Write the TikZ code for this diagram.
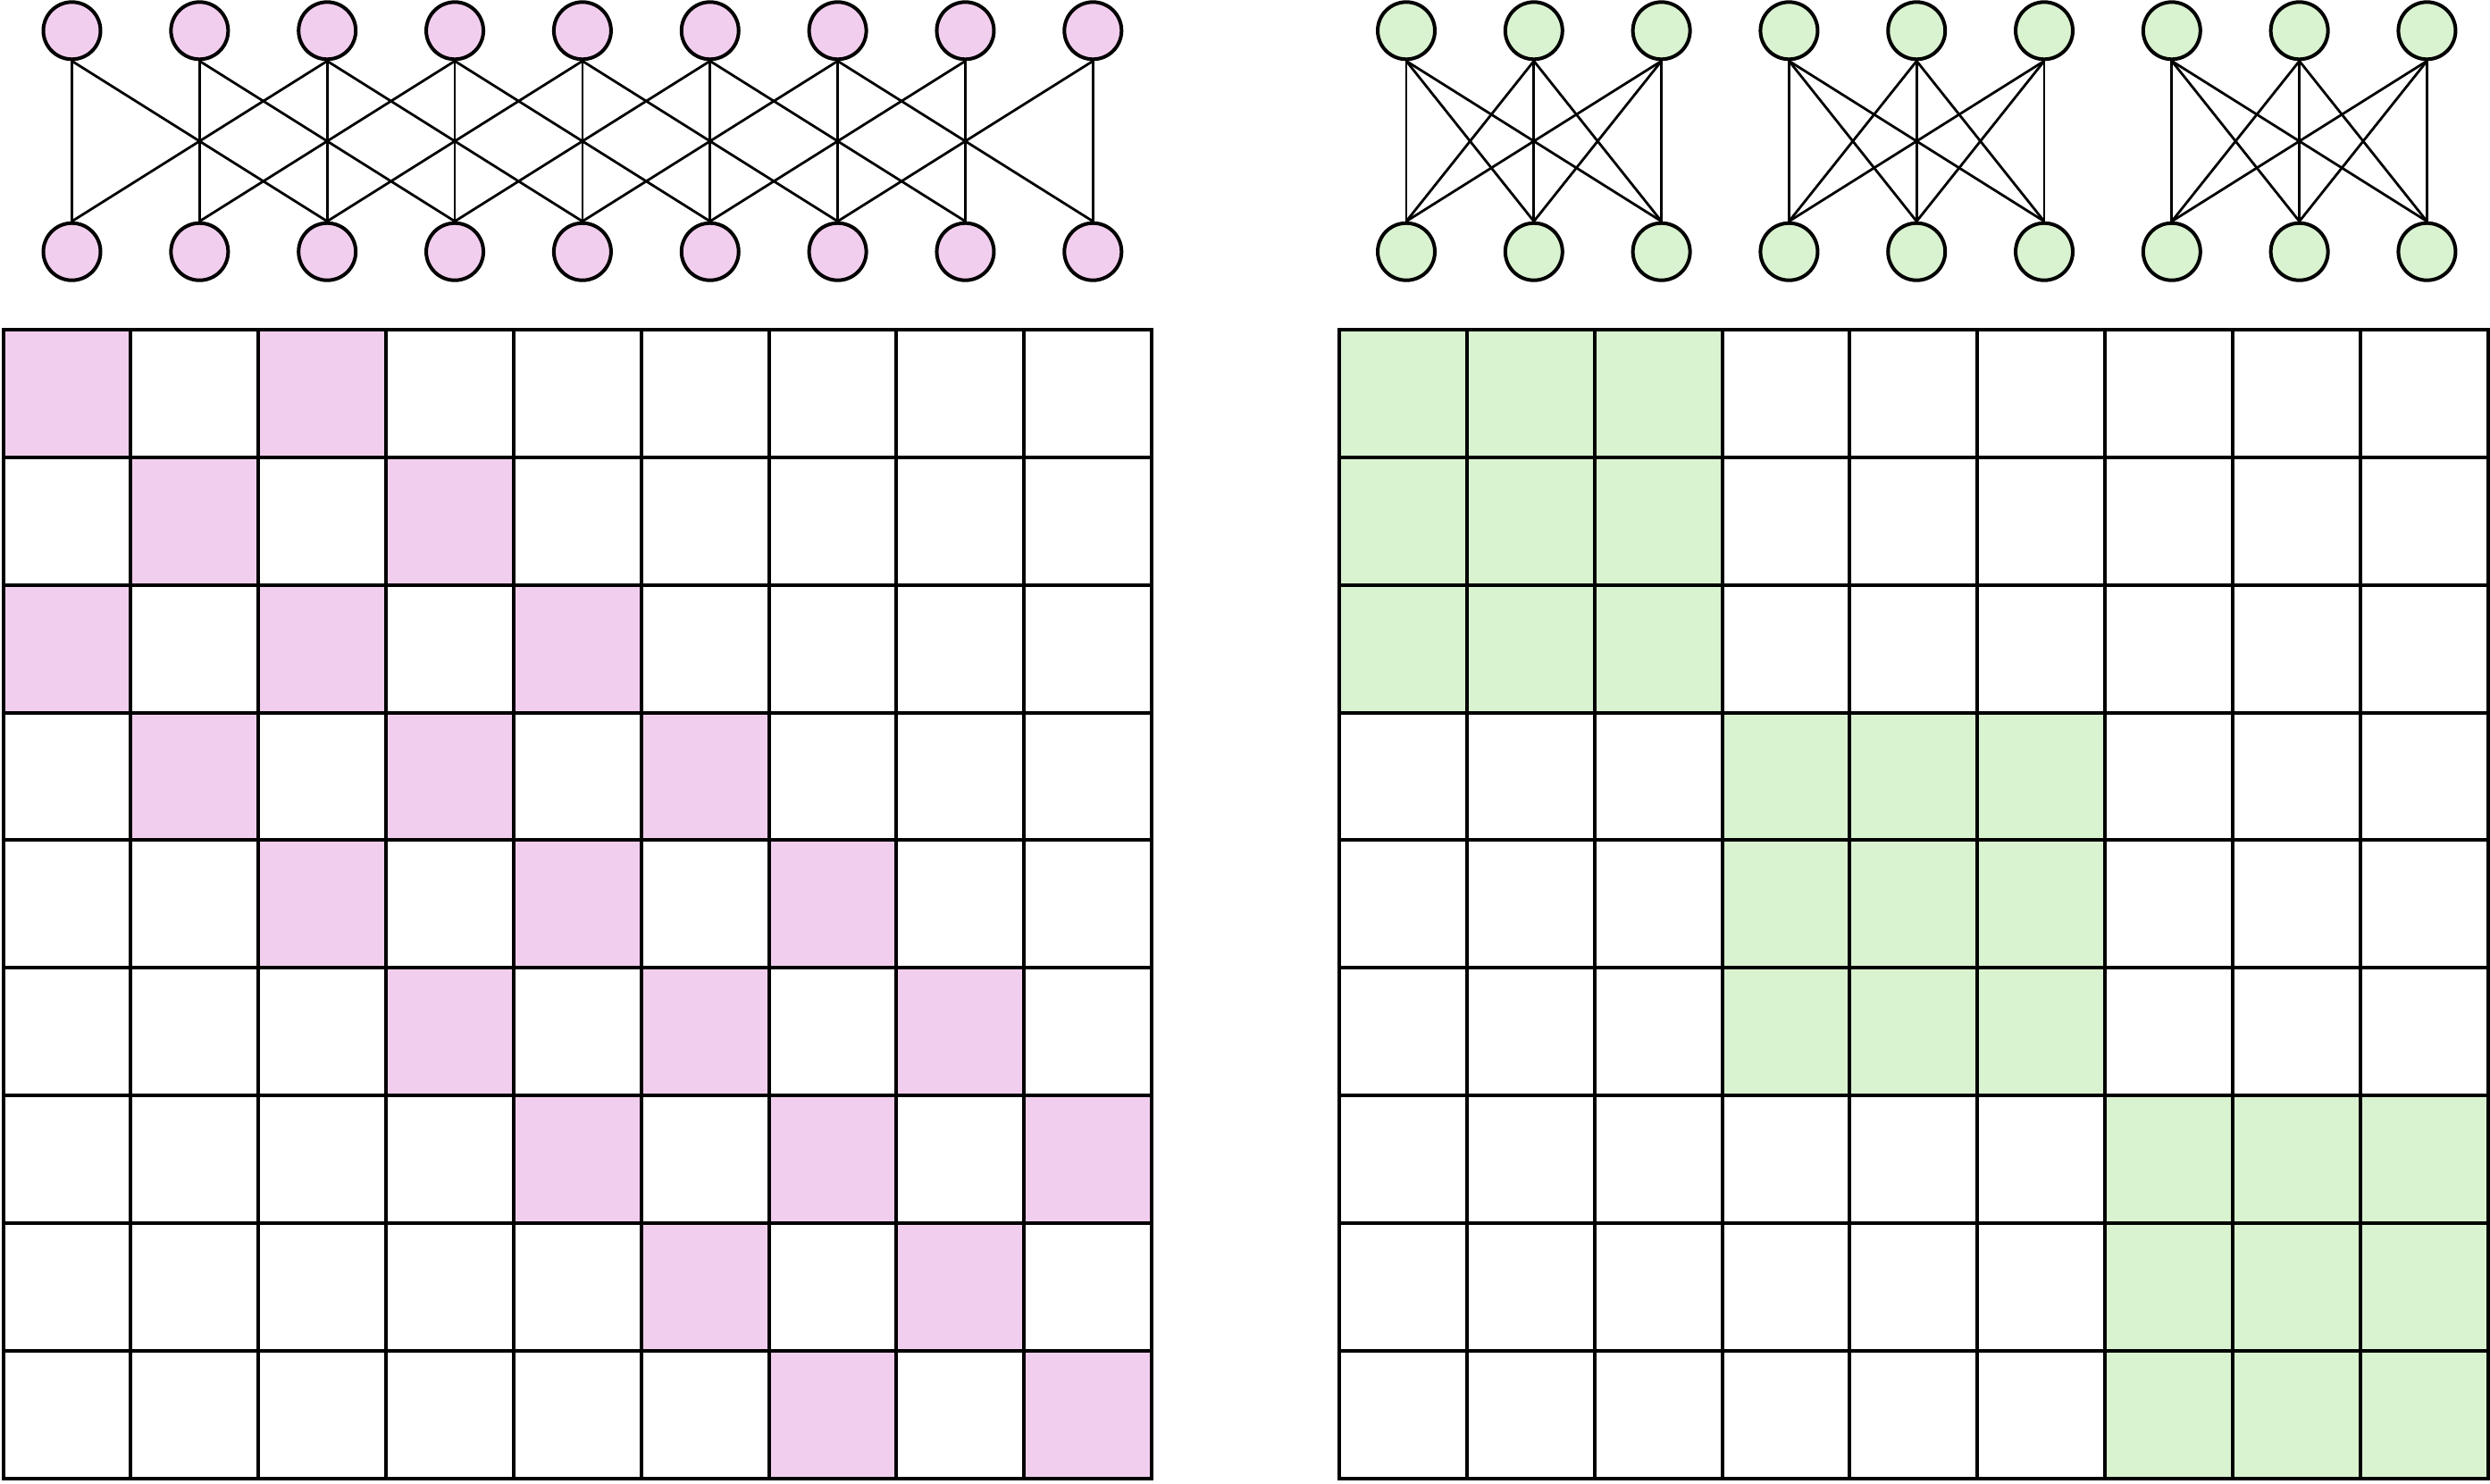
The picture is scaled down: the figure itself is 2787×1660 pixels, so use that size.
\documentclass[tikz,border=0pt]{standalone}
\definecolor{pinkc}{HTML}{F2CEEE}
\definecolor{greenc}{HTML}{D9F2D0}
\begin{document}
\begin{tikzpicture}[x=0.1mm,y=-0.1mm,
  vert/.style={circle, draw, line width=0.4mm, minimum size=6.4mm, inner sep=0pt},
  pinkv/.style={vert, fill=pinkc},
  greenv/.style={vert, fill=greenc},
  edge/.style={line width=0.28mm},
  gridline/.style={line width=0.4mm}]
\useasboundingbox (0,0) rectangle (2787,1660);
% ---------- left graph ----------
\foreach \i in {1,...,9} {
  \node[pinkv] (t\i) at ({80.5+142.85*(\i-1)},34.3) {};
  \node[pinkv] (b\i) at ({80.5+142.85*(\i-1)},281.7) {};
}
\foreach \i in {1,...,9} {
  \foreach \d in {-2,0,2} {
    \pgfmathtruncatemacro\j{\i+\d}
    \ifnum\j>0 \ifnum\j<10
      \draw[edge] (t\i.south) -- (b\j.north);
    \fi\fi
  }
}
% ---------- right graph ----------
\foreach \i in {1,...,9} {
  \node[greenv] (gt\i) at ({1574+142.8*(\i-1)},34.3) {};
  \node[greenv] (gb\i) at ({1574+142.8*(\i-1)},281.7) {};
}
\foreach \g in {0,1,2} {
  \foreach \a in {1,2,3} {
    \foreach \b in {1,2,3} {
      \pgfmathtruncatemacro\p{3*\g+\a}
      \pgfmathtruncatemacro\q{3*\g+\b}
      \draw[edge] (gt\p.south) -- (gb\q.north);
    }
  }
}
% ---------- left matrix ----------
\def\cs{142.85}
\foreach \r in {0,...,8} {
  \foreach \c in {0,...,8} {
    \pgfmathtruncatemacro\dd{abs(\r-\c)}
    \ifnum\dd=0 \fill[pinkc] ({3.5+\cs*\c},{369+\cs*\r}) rectangle ++(\cs,\cs); \fi
    \ifnum\dd=2 \fill[pinkc] ({3.5+\cs*\c},{369+\cs*\r}) rectangle ++(\cs,\cs); \fi
  }
}
\foreach \k in {1,...,8} {
  \draw[gridline] ({3.5+\cs*\k},369) -- ({3.5+\cs*\k},{369+9*\cs});
  \draw[gridline] (3.5,{369+\cs*\k}) -- ({3.5+9*\cs},{369+\cs*\k});
}
\draw[gridline] (3.5,369) rectangle ({3.5+9*\cs},{369+9*\cs});
% ---------- right matrix ----------
\foreach \g in {0,1,2} {
  \fill[greenc] ({1499+3*\cs*\g},{369+3*\cs*\g}) rectangle ++({3*\cs},{3*\cs});
}
\foreach \k in {1,...,8} {
  \draw[gridline] ({1499+\cs*\k},369) -- ({1499+\cs*\k},{369+9*\cs});
  \draw[gridline] (1499,{369+\cs*\k}) -- ({1499+9*\cs},{369+\cs*\k});
}
\draw[gridline] (1499,369) rectangle ({1499+9*\cs},{369+9*\cs});
\end{tikzpicture}
\end{document}
